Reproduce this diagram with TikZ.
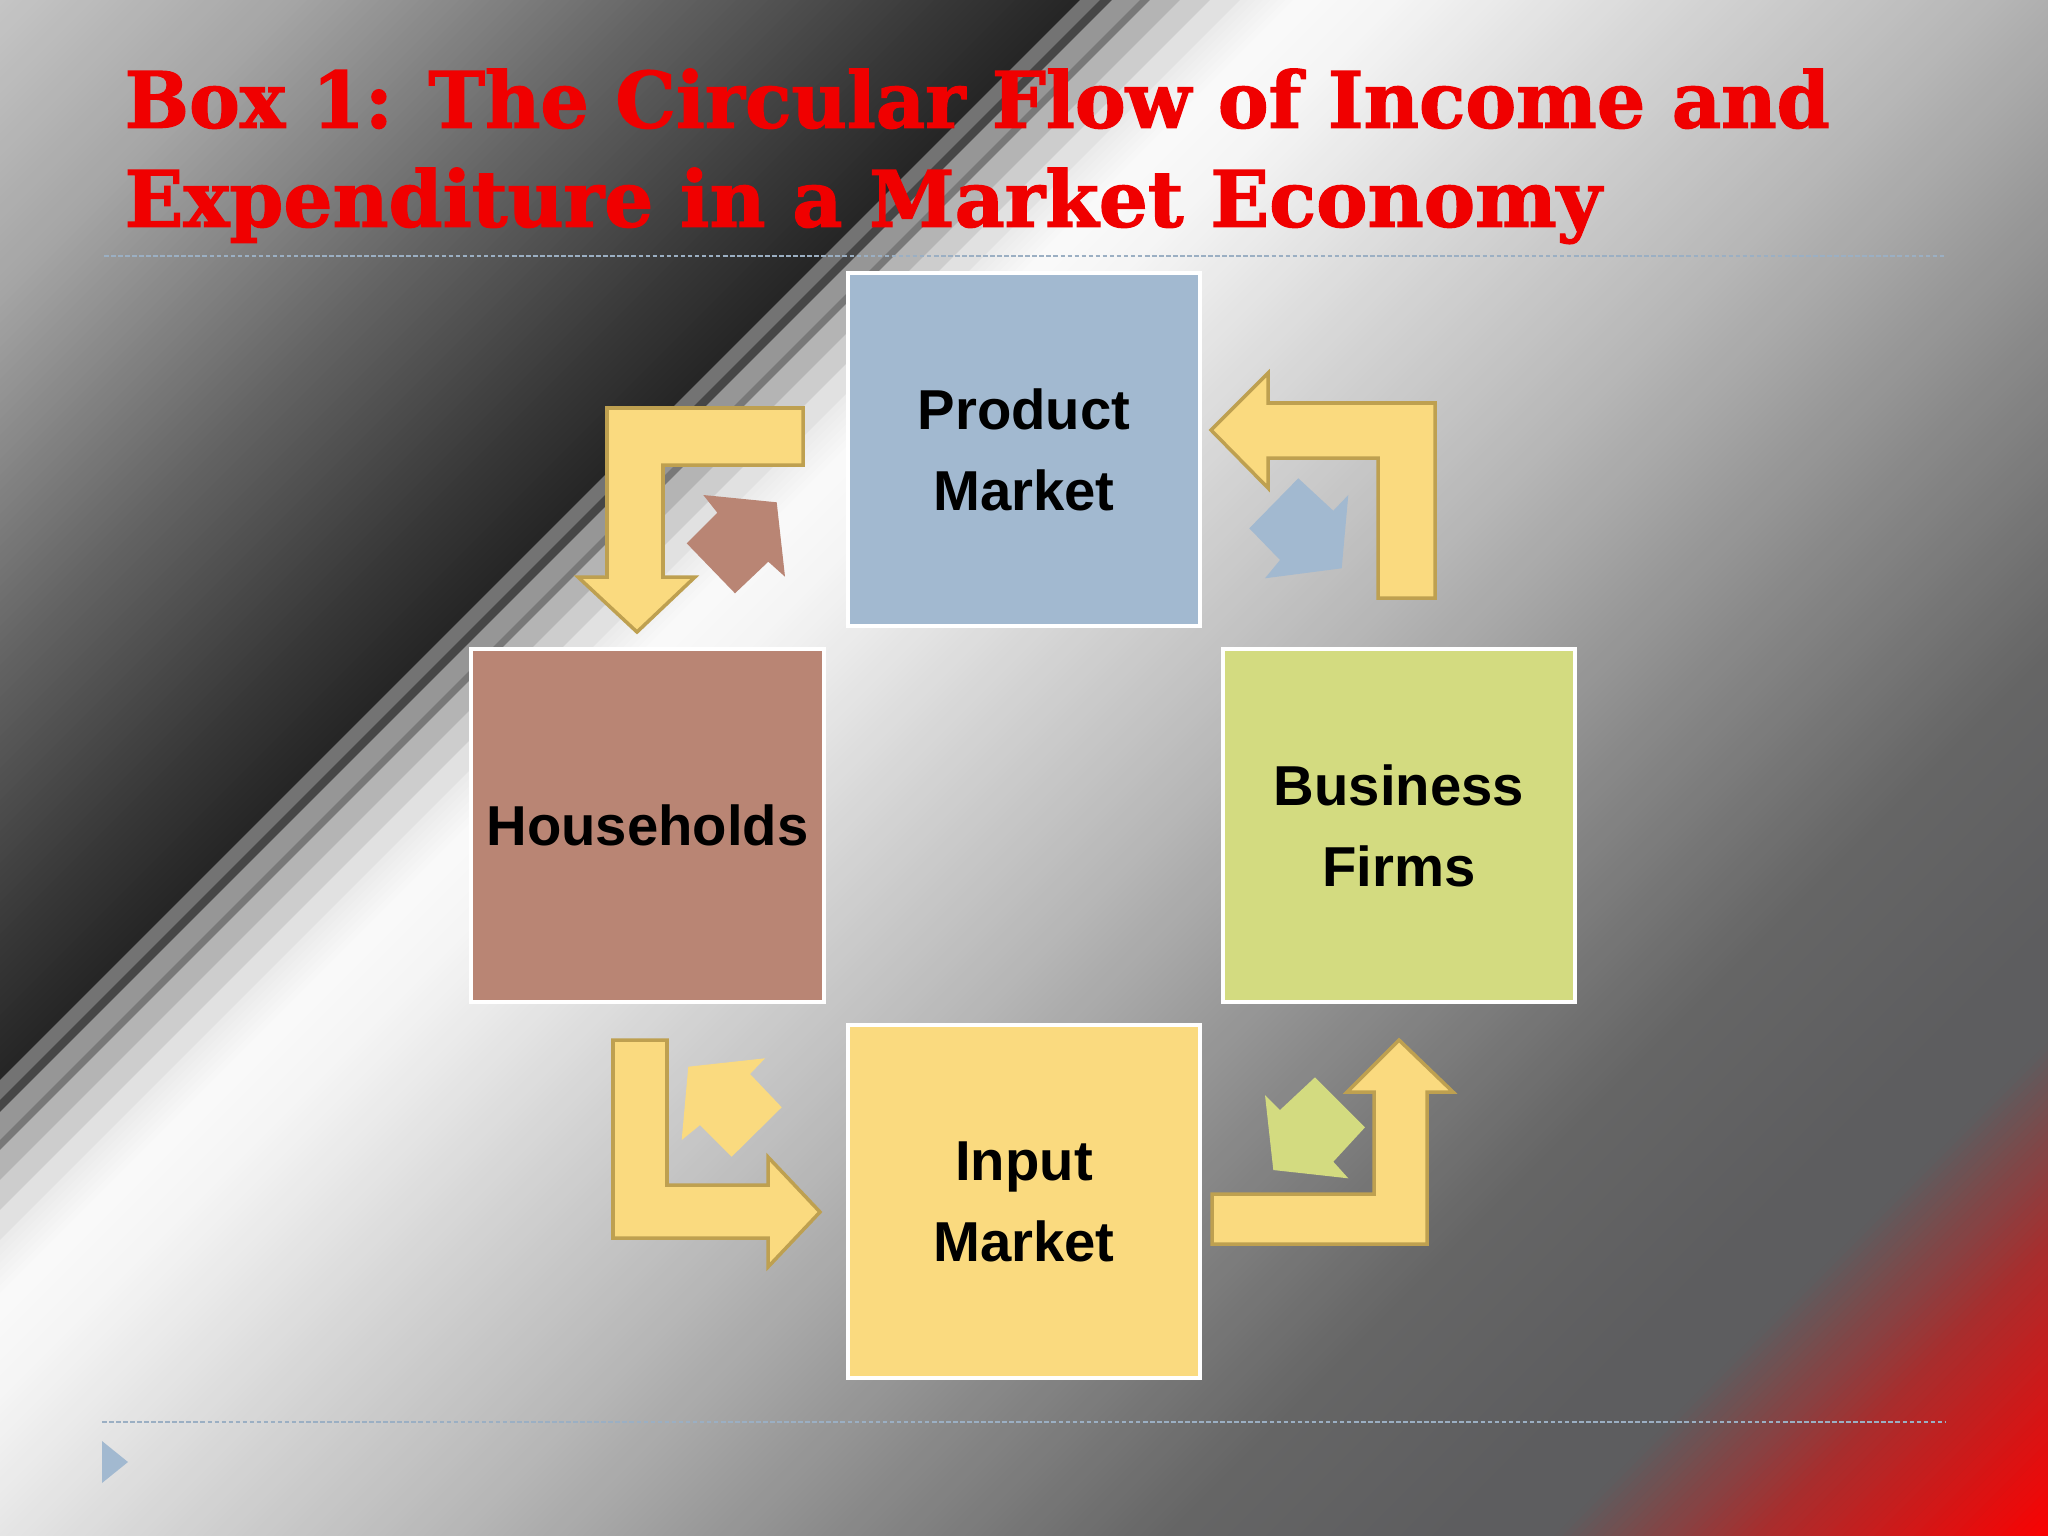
\documentclass[tikz,border=0pt]{standalone}
\usepackage{fontspec}
\setmainfont{Liberation Sans}
\newfontfamily\titlefont{DejaVu Serif}[BoldFeatures={FakeBold=1.6}]
\usepackage{graphicx}
\definecolor{titlered}{RGB}{240,0,0}
\definecolor{pmblue}{RGB}{162,185,208}
\definecolor{hhbrown}{RGB}{185,133,116}
\definecolor{bfgreen}{RGB}{211,219,128}
\definecolor{imyellow}{RGB}{250,218,127}
\definecolor{arrowedge}{RGB}{190,160,80}
\definecolor{dashblue}{RGB}{155,175,195}
\newcommand\seg[8]{%
  \pgfmathtruncatemacro\nn{max(1,round((#2-#1)/8))}%
  \foreach \i in {1,...,\nn}{%
    \pgfmathsetmacro\tm{(\i-0.5)/\nn}%
    \pgfmathsetmacro\da{#1+(#2-#1)*(\i-1)/\nn}%
    \pgfmathsetmacro\db{#1+(#2-#1)*\i/\nn+1.5}%
    \pgfmathtruncatemacro\rr{#3+(#6-#3)*\tm}%
    \pgfmathtruncatemacro\gg{#4+(#7-#4)*\tm}%
    \pgfmathtruncatemacro\bb{#5+(#8-#5)*\tm}%
    \definecolor{bandc}{RGB}{\rr,\gg,\bb}%
    \fill[bandc] (\da,0) -- (\db,0) -- (\db-1536,1536) -- (\da-1536,1536) -- cycle;
  }}
\tikzset{
  box/.style={rectangle, draw=white, line width=1.1pt, minimum width=3.52cm, minimum height=3.52cm,
    align=center, inner sep=0pt, font=\fontsize{16}{23}\selectfont\bfseries, text=black},
  lbend/.style={fill=imyellow, draw=arrowedge, line width=1pt, line join=miter},
  titletext/.style={anchor=base west, inner sep=0pt, text=titlered, font=\titlefont\bfseries},
  rule/.style={draw=dashblue, line width=0.6pt, dash pattern=on 1.3pt off 0.7pt}
}
\begin{document}
\begin{tikzpicture}[x=0.01cm, y=-0.01cm]
\useasboundingbox (0,0) rectangle (2048,1536);
\begin{scope}
\clip (0,0) rectangle (2048,1536);
\seg{0}{300}{198}{198}{198}{165}{165}{165}
\seg{300}{650}{165}{165}{165}{102}{102}{102}
\seg{650}{950}{102}{102}{102}{55}{55}{55}
\seg{950}{1080}{55}{55}{55}{38}{38}{38}
\seg{1080}{1100}{115}{115}{115}{115}{115}{115}
\seg{1100}{1112}{70}{70}{70}{70}{70}{70}
\seg{1112}{1140}{150}{150}{150}{150}{150}{150}
\seg{1140}{1150}{120}{120}{120}{120}{120}{120}
\seg{1150}{1180}{180}{180}{180}{180}{180}{180}
\seg{1180}{1210}{205}{205}{205}{205}{205}{205}
\seg{1210}{1240}{225}{225}{225}{225}{225}{225}
\seg{1240}{1300}{235}{235}{235}{250}{250}{250}
\seg{1300}{1400}{250}{250}{250}{245}{245}{245}
\seg{1400}{1700}{245}{245}{245}{212}{212}{212}
\seg{1700}{2000}{212}{212}{212}{182}{182}{182}
\seg{2000}{2350}{182}{182}{182}{140}{140}{140}
\seg{2350}{2700}{140}{140}{140}{102}{102}{102}
\seg{2700}{3000}{102}{102}{102}{93}{93}{95}
\seg{3000}{3090}{93}{93}{95}{93}{93}{95}
\seg{3090}{3300}{93}{93}{95}{170}{45}{45}
\seg{3300}{3600}{170}{45}{45}{255}{0}{0}
\end{scope}

% title
\node[titletext] (t1) at (124,127.7) {\resizebox{17.04cm}{0.59cm}{Box 1: The Circular Flow of Income and}};
\node[titletext] (t2) at (124,226.7) {\resizebox{14.76cm}{0.59cm}{Expenditure in a Market Economy}};

% rules
\coordinate (r1a) at (104,256); \coordinate (r1b) at (1946,256);
\coordinate (r2a) at (102,1422); \coordinate (r2b) at (1946,1422);
\draw[rule] (r1a) -- (r1b);
\draw[rule] (r2a) -- (r2b);
\fill[pmblue] (102,1441) -- (128,1462) -- (102,1483) -- cycle;

% boxes
\node[box, fill=pmblue] (pm) at (1024,449.5) {Product\\Market};
\node[box, fill=hhbrown] (hh) at (647.5,825.5) {Households};
\node[box, fill=bfgreen] (bf) at (1399,825.5) {Business\\Firms};
\node[box, fill=imyellow] (im) at (1024,1201.5) {Input\\Market};

% bent yellow arrows
\draw[lbend] (803,408) -- (607,408) -- (607,577) -- (578,577) -- (637,632) -- (695,577) -- (663,577) -- (663,465) -- (803,465) -- cycle;
\draw[lbend] (1211,430) -- (1268,373) -- (1268,403) -- (1435,403) -- (1435,598) -- (1378,598) -- (1378,458) -- (1268,458) -- (1268,488) -- cycle;
\draw[lbend] (613,1040) -- (667,1040) -- (667,1185) -- (768,1185) -- (768,1157) -- (820,1212) -- (768,1267) -- (768,1238) -- (613,1238) -- cycle;
\draw[lbend] (1212,1194) -- (1374,1194) -- (1374,1092) -- (1347,1092) -- (1399,1040) -- (1453,1092) -- (1427,1092) -- (1427,1244) -- (1212,1244) -- cycle;

% small block arrows
\fill[hhbrown] (686.7,543.3) -- (717.3,512.7) -- (703.3,495) -- (776.7,502.3) -- (785,576.7) -- (768.3,561.7) -- (735,593.3) -- cycle;
\fill[pmblue] (1298.3,478.3) -- (1333.3,510.7) -- (1348.3,495) -- (1341.7,568.3) -- (1265,578.3) -- (1280,560) -- (1249.3,528.3) -- cycle;
\fill[imyellow] (688.3,1066.7) -- (765,1058.3) -- (750,1074) -- (781.7,1107.3) -- (731.7,1156.7) -- (700,1125) -- (681.7,1140) -- cycle;
\fill[bfgreen] (1265,1095) -- (1280,1110) -- (1315,1077.3) -- (1365,1127.3) -- (1333.3,1161.7) -- (1348.3,1178.3) -- (1273.3,1170) -- cycle;
\end{tikzpicture}
\end{document}
